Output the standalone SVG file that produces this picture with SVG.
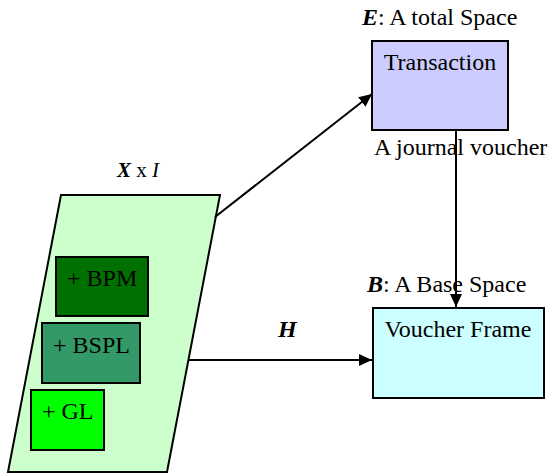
<svg xmlns="http://www.w3.org/2000/svg" width="549" height="475" viewBox="0 0 549 475">
<defs>
<marker id="ah" markerWidth="13" markerHeight="12" refX="13" refY="6" orient="auto" markerUnits="userSpaceOnUse" viewBox="0 0 13 12">
<path d="M0,0 L13,6 L0,12 z" fill="#000"/>
</marker>
<style>
text{font-family:"Liberation Serif","Times New Roman",serif;font-size:24px;fill:#000}
.b{stroke:#000;stroke-width:2}
.c{stroke:#000;stroke-width:2;fill:none}
</style>
</defs>
<rect width="549" height="475" fill="#fff"/>
<g id="xi">
<polygon class="b" points="61,195 220,195 167,472 8,472" fill="#CCFFCC"/>
<text x="117" y="177" style="font-size:21px"><tspan font-weight="bold" font-style="italic">X</tspan> x <tspan font-style="italic">I</tspan></text>
</g>
<g id="bpm">
<rect class="b" x="56" y="257" width="92" height="59" fill="#007000"/>
<text x="67" y="286">+ BPM</text>
</g>
<g id="bspl">
<rect class="b" x="42" y="323" width="98" height="60" fill="#339966"/>
<text x="53" y="353">+ BSPL</text>
</g>
<g id="gl">
<rect class="b" x="31" y="390" width="73" height="60" fill="#00FF00"/>
<text x="42" y="419">+ GL</text>
</g>
<g id="transaction">
<text x="362" y="25"><tspan font-weight="bold" font-style="italic">E</tspan>: A total Space</text>
<rect class="b" x="372" y="41" width="136" height="89" fill="#CCCCFF"/>
<text x="440" y="70" text-anchor="middle">Transaction</text>
</g>
<g id="voucher">
<text x="367" y="292"><tspan font-weight="bold" font-style="italic">B</tspan>: A Base Space</text>
<rect class="b" x="373" y="308" width="171" height="90" fill="#CCFFFF"/>
<text x="458" y="337" text-anchor="middle">Voucher Frame</text>
</g>
<g id="connectors">
<line class="c" x1="215" y1="217" x2="372" y2="94" marker-end="url(#ah)"/>
<line class="c" x1="456" y1="130" x2="456" y2="307" marker-end="url(#ah)"/>
<line class="c" x1="188" y1="360" x2="372" y2="360" marker-end="url(#ah)"/>
<text x="374" y="155">A journal voucher</text>
<text x="278" y="337" font-weight="bold" font-style="italic">H</text>
</g>
</svg>
